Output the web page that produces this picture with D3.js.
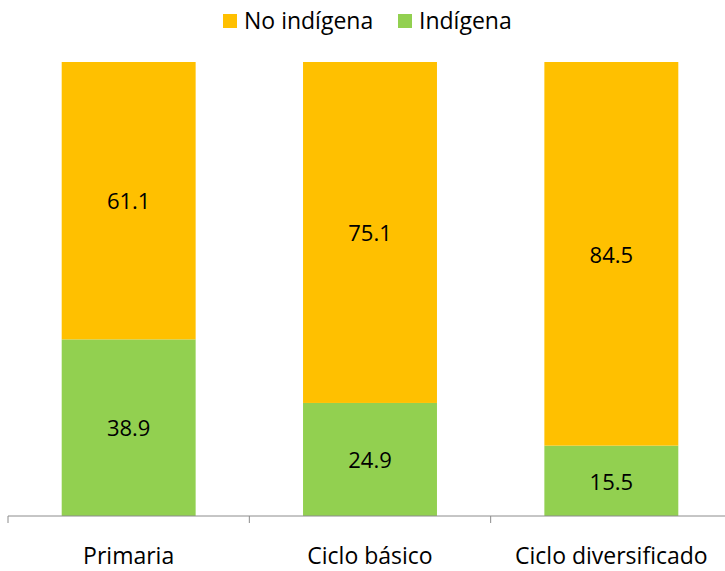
<!DOCTYPE html>
<html>
<head>
<meta charset="utf-8">
<script src="https://cdn.jsdelivr.net/npm/d3@7"></script>
<style>
  body { margin: 0; background: #fff; }
  text { font-family: "Open Sans", "Noto Sans", sans-serif; fill: #000; }
</style>
</head>
<body>
<div id="chart"></div>
<script>
// data
var categories = ["Primaria", "Ciclo básico", "Ciclo diversificado"];
var indigena = [38.9, 24.9, 15.5];
var noIndigena = [61.1, 75.1, 84.5];
var seriesNames = ["No indígena", "Indígena"];
var seriesColors = ["#FFC000", "#92D050"];

var W = 725, H = 571;
var margin = {top: 62, right: -7, bottom: 55, left: 8};
var width = W - margin.left - margin.right,
    height = H - margin.top - margin.bottom;

var svg = d3.select("#chart")
  .append("svg")
    .attr("width", W)
    .attr("height", H)
  .append("g")
    .attr("transform", "translate(" + margin.left + "," + margin.top + ")");

var rows = categories.map(function(c, i) {
  return {cat: c, "Indígena": indigena[i], "No indígena": noIndigena[i]};
});

// green at the bottom, orange on top
var stack = d3.stack().keys(["Indígena", "No indígena"]);
var layers = stack(rows);

var x = d3.scaleBand()
  .domain(categories)
  .range([0, width])
  .paddingInner(0.445)
  .paddingOuter(0.2225);

var y = d3.scaleLinear()
  .domain([0, 100])
  .range([height, 0]);

var color = d3.scaleOrdinal()
  .domain(seriesNames)
  .range(seriesColors);

var layer = svg.selectAll("g.layer")
  .data(layers)
  .enter().append("g")
    .attr("class", "layer")
    .attr("fill", function(d) { return color(d.key); });

layer.selectAll("rect")
  .data(function(d) { return d; })
  .enter().append("rect")
    .attr("x", function(d) { return x(d.data.cat); })
    .attr("y", function(d) { return y(d[1]); })
    .attr("width", x.bandwidth())
    .attr("height", function(d) { return y(d[0]) - y(d[1]); });

layer.selectAll("text")
  .data(function(d) { return d.map(function(p) { return {p: p, key: d.key}; }); })
  .enter().append("text")
    .attr("x", function(d) { return x(d.p.data.cat) + x.bandwidth() / 2; })
    .attr("y", function(d) { return (y(d.p[0]) + y(d.p[1])) / 2; })
    .attr("text-anchor", "middle")
    .attr("dy", "0.4em")
    .style("font-size", "22px")
    .text(function(d) { return d.p.data[d.key].toFixed(1); });

// category axis, ticks between groups
var step = x.step();
var axisG = svg.append("g")
  .attr("transform", "translate(0," + height + ")");

axisG.append("line")
  .attr("x1", 0).attr("x2", width)
  .attr("y1", 0).attr("y2", 0)
  .attr("stroke", "#8c8c8c")
  .attr("stroke-width", 1);

var edge = x(categories[0]) - (step - x.bandwidth()) / 2;
d3.range(categories.length + 1).forEach(function(i) {
  var tx = edge + i * step;
  axisG.append("line")
    .attr("x1", tx).attr("x2", tx)
    .attr("y1", 0).attr("y2", 7)
    .attr("stroke", "#8c8c8c")
    .attr("stroke-width", 1);
});

axisG.selectAll("text.cat")
  .data(categories)
  .enter().append("text")
    .attr("class", "cat")
    .attr("x", function(d) { return x(d) + x.bandwidth() / 2; })
    .attr("y", 39.5)
    .attr("text-anchor", "middle")
    .attr("dy", "0.35em")
    .style("font-size", "23px")
    .text(function(d) { return d; });

// legend
var legend = d3.select("svg").append("g");
var legX = [223, 398];
seriesNames.forEach(function(name, i) {
  legend.append("rect")
    .attr("x", legX[i]).attr("y", 14)
    .attr("width", 14).attr("height", 14)
    .attr("fill", color(name));
  legend.append("text")
    .attr("x", legX[i] + 21).attr("y", 20.5)
    .attr("dy", "0.35em")
    .style("font-size", "23px")
    .text(name);
});
</script>
</body>
</html>
